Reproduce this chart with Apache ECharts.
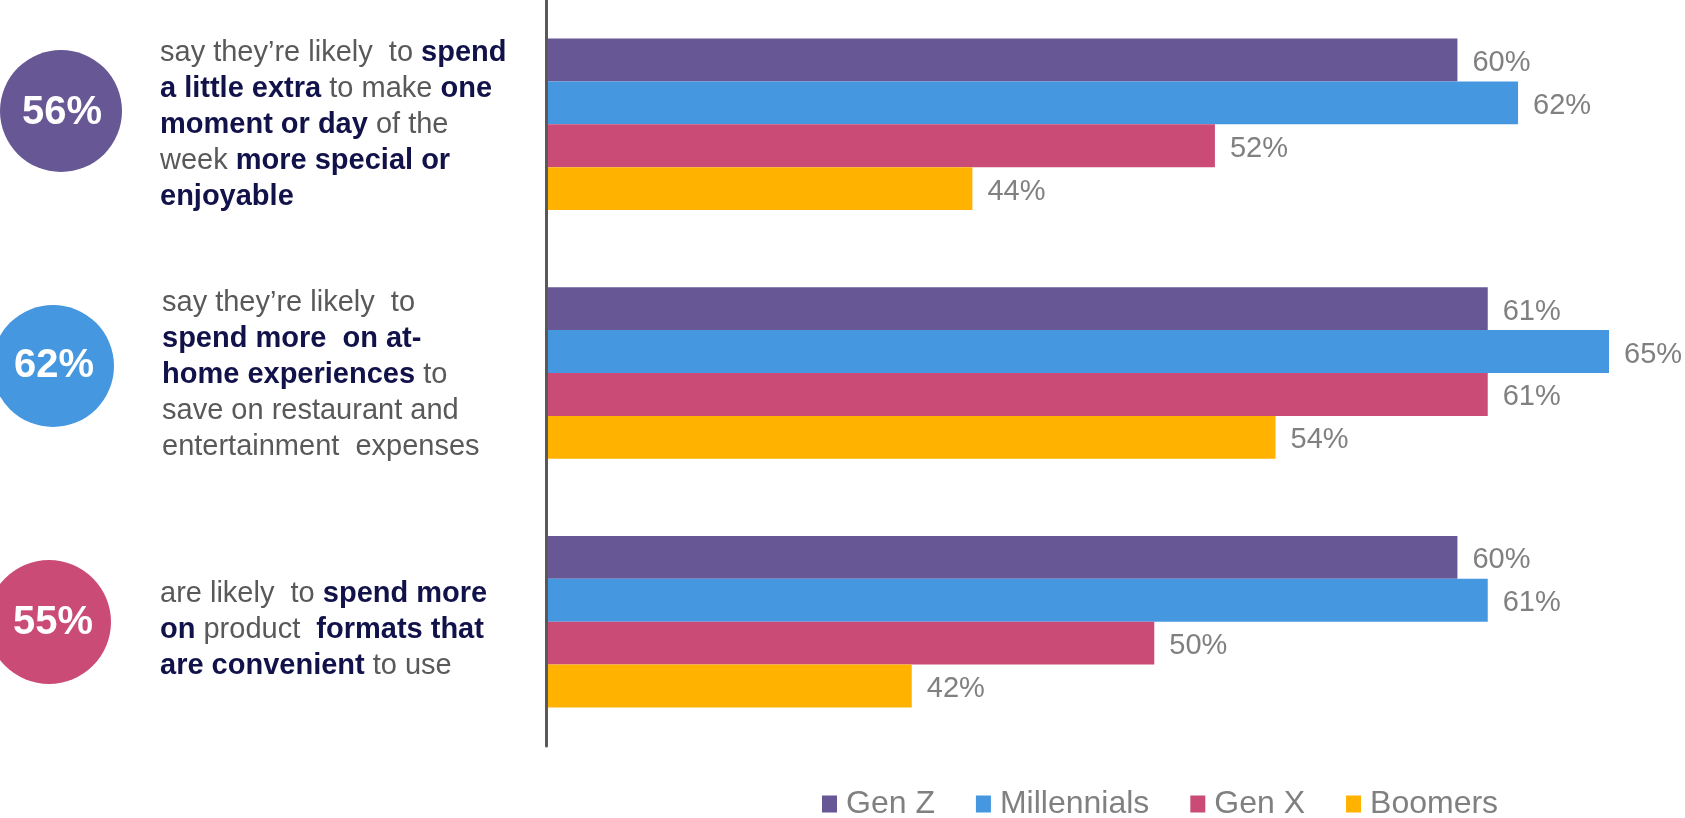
<!DOCTYPE html>
<html>
<head>
<meta charset="utf-8">
<script src="https://cdn.jsdelivr.net/npm/echarts@6/dist/echarts.min.js"></script>
<style>
html,body{margin:0;padding:0;background:#fff;}
#chart{width:1685px;height:818px;}
</style>
</head>
<body>
<div id="chart"></div>
<script>
// ---- data ----
const categories = ['Spend a little extra', 'At-home experiences', 'Convenient formats'];
const seriesNames = ['Gen Z', 'Millennials', 'Gen X', 'Boomers'];
const genZ = [60, 61, 60];
const millennials = [62, 65, 61];
const genX = [52, 61, 50];
const boomers = [44, 54, 42];
const headlineValues = ['56%', '62%', '55%'];
// statement text: lines of [text, style] segments (r = regular, b = bold)
const statement1 = [
  [['say they’re likely  to ', 'r'], ['spend', 'b']],
  [['a little extra', 'b'], [' to make ', 'r'], ['one', 'b']],
  [['moment or day', 'b'], [' of the', 'r']],
  [['week ', 'r'], ['more special or', 'b']],
  [['enjoyable', 'b']]
];
const statement2 = [
  [['say they’re likely  to', 'r']],
  [['spend more  on at-', 'b']],
  [['home experiences', 'b'], [' to', 'r']],
  [['save on restaurant and', 'r']],
  [['entertainment  expenses', 'r']]
];
const statement3 = [
  [['are likely  to ', 'r'], ['spend more', 'b']],
  [['on', 'b'], [' product  ', 'r'], ['formats that', 'b']],
  [['are convenient', 'b'], [' to use', 'r']]
];

// ---- styles ----
const colors = ['#675794', '#4597E0', '#CB4B77', '#FFB300'];
const FONT = 'Liberation Sans, Arial, sans-serif';
const seriesData = [genZ, millennials, genX, boomers];
const statements = [statement1, statement2, statement3];
const circleLayout = [
  { cx: 61, cy: 111, r: 61, tx: 62, ty: 113 },
  { cx: 53, cy: 366, r: 61, tx: 54, ty: 366 },
  { cx: 49, cy: 622, r: 62, tx: 53, ty: 623 }
];
const textLayout = [
  { x: 160, y: 125 },
  { x: 162, y: 375 },
  { x: 160, y: 630 }
];

function richText(lines) {
  return lines.map(line => line.map(([t, s]) => '{' + s + '|' + t + '}').join('')).join('\n');
}
const rich = {
  r: { fontFamily: FONT, fontSize: 29, fill: '#595959', lineHeight: 36 },
  b: { fontFamily: FONT, fontSize: 29, fontWeight: 'bold', fill: '#12124A', lineHeight: 36 }
};

const graphics = [];
statements.forEach((st, i) => {
  const c = circleLayout[i];
  graphics.push({
    type: 'circle', shape: { cx: c.cx, cy: c.cy, r: c.r },
    style: { fill: colors[i] }, silent: true
  });
  graphics.push({
    type: 'text', x: c.tx, y: c.ty,
    style: {
      text: headlineValues[i], fill: '#fff', font: 'bold 40px ' + FONT,
      textAlign: 'center', textVerticalAlign: 'middle'
    }, silent: true
  });
  const tl = textLayout[i];
  graphics.push({
    type: 'text', x: tl.x, y: tl.y,
    style: {
      text: richText(st), rich: rich,
      textAlign: 'left', textVerticalAlign: 'middle'
    }, silent: true
  });
});

const chart = echarts.init(document.getElementById('chart'), null, { renderer: 'canvas' });
chart.setOption({
  animation: false,
  backgroundColor: '#ffffff',
  grid: { left: 548, top: 0, width: 1061, height: 746, containLabel: false },
  legend: {
    data: seriesNames,
    left: 822, top: 788, padding: 0,
    itemWidth: 15, itemHeight: 17, itemGap: 41,
    icon: 'rect',
    textStyle: { fontFamily: FONT, fontSize: 32, color: '#808080', padding: [0, 0, 0, 4] }
  },
  xAxis: {
    type: 'value', min: 30, max: 65,
    show: false, splitLine: { show: false }
  },
  yAxis: {
    type: 'category', data: categories, inverse: true, offset: 2,
    axisLine: { show: true, lineStyle: { color: '#595959', width: 3 } },
    axisTick: { show: false }, axisLabel: { show: false }, splitLine: { show: false }
  },
  series: seriesNames.map((name, i) => ({
    name: name, type: 'bar', data: seriesData[i],
    barGap: '0%', barCategoryGap: '31%',
    itemStyle: { color: colors[i] },
    label: {
      show: true, position: 'right', distance: 15, offset: [0, 3],
      formatter: '{c}%', fontFamily: FONT, fontSize: 29, color: '#808080'
    }
  })),
  graphic: graphics
});
</script>
</body>
</html>
